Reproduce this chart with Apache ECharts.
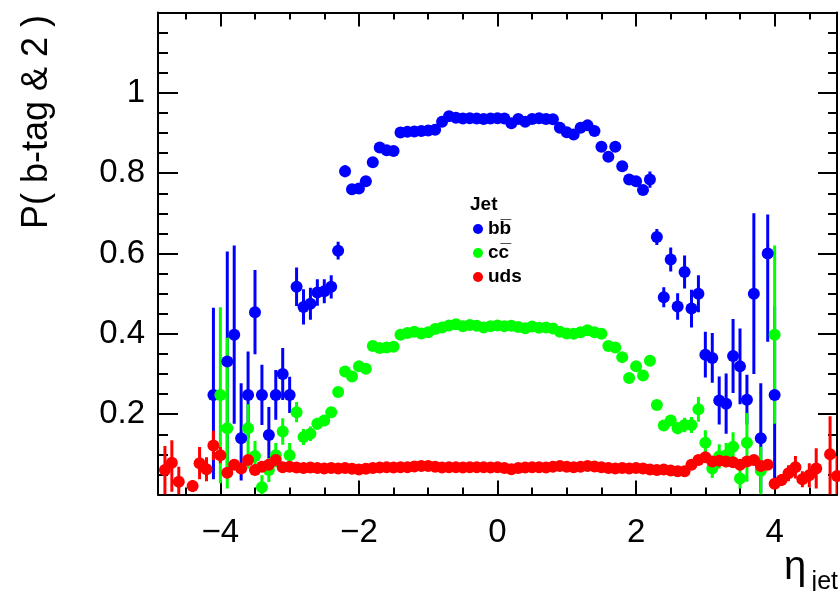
<!DOCTYPE html>
<html><head><meta charset="utf-8">
<script src="https://cdn.jsdelivr.net/npm/echarts@6/dist/echarts.min.js"></script>
<style>html,body{margin:0;padding:0;background:#fff}#c{width:840px;height:591px}</style>
</head><body><div id="c"></div>
<script>
// ---- tick labels ----
const xMajorTicks = [-4, -2, 0, 2, 4];
const xMinorTicks = [-4.5, -3.5, -3, -2.5, -1.5, -1, -0.5, 0.5, 1, 1.5, 2.5, 3, 3.5, 4.5];
const yTickLabels = [0.2, 0.4, 0.6, 0.8, 1];

// ---- b bbar ----
const bbEta = [-4.1,-3.9,-3.8,-3.7,-3.6,-3.5,-3.4,-3.3,-3.2,-3.1,-3.0,-2.9,-2.8,-2.7,-2.6,-2.5,-2.4,-2.3,-2.2,-2.1,-2.0,-1.9,-1.8,-1.7,-1.6,-1.5,
 -1.4,-1.3,-1.2,-1.1,-1.0,-0.9,-0.8,-0.7,-0.6,-0.5,-0.4,-0.3,-0.2,-0.1,0.0,0.1,0.2,0.3,0.4,0.5,0.6,0.7,0.8,0.9,1.0,1.1,1.2,1.3,1.4,
 1.5,1.6,1.7,1.8,1.9,2.0,2.1,2.2,2.3,2.4,2.5,2.6,2.7,2.8,2.9,3.0,3.1,3.2,3.3,3.4,3.5,3.6,3.7,3.8,3.9,4.0];
const bbVal = [0.248,0.331,0.398,0.14,0.248,0.454,0.248,0.148,0.248,0.30,0.248,0.517,0.467,0.475,0.503,0.506,0.517,0.607,0.805,0.76,0.762,0.78,0.827,0.864,0.857,0.855,
 0.901,0.903,0.904,0.905,0.906,0.908,0.928,0.942,0.938,0.936,0.937,0.936,0.935,0.936,0.937,0.936,0.924,0.935,0.928,0.935,0.937,0.935,0.934,0.913,0.902,0.896,0.913,0.919,0.905,
 0.866,0.841,0.866,0.817,0.784,0.78,0.758,0.784,0.641,0.491,0.585,0.468,0.554,0.463,0.50,0.348,0.34,0.234,0.226,0.345,0.319,0.236,0.50,0.14,0.60,0.248];
const bbErrHi = [0.217,0.274,0.222,0.137,0.108,0.105,0.075,0.07,0.062,0.065,0.045,0.048,0.044,0.04,0.033,0.03,0.029,0.022,0.015,0.012,0.011,0.01,0.009,0.008,0.008,0.007,
 0.005,0.005,0.005,0.005,0.005,0.005,0.005,0.005,0.005,0.005,0.005,0.005,0.005,0.005,0.005,0.005,0.005,0.005,0.005,0.005,0.005,0.005,0.005,0.005,0.005,0.005,0.005,0.005,0.005,
 0.007,0.008,0.008,0.009,0.01,0.011,0.012,0.02,0.02,0.025,0.03,0.033,0.041,0.047,0.046,0.057,0.062,0.06,0.075,0.092,0.094,0.062,0.2,0.137,0.097,0.22];
const bbErrLo = [0.21,0.29,0.222,0.105,0.108,0.105,0.075,0.07,0.062,0.065,0.045,0.048,0.044,0.04,0.033,0.03,0.029,0.022,0.015,0.012,0.011,0.01,0.009,0.008,0.008,0.007,
 0.005,0.005,0.005,0.005,0.005,0.005,0.005,0.005,0.005,0.005,0.005,0.005,0.005,0.005,0.005,0.005,0.005,0.005,0.005,0.005,0.005,0.005,0.005,0.005,0.005,0.005,0.005,0.005,0.005,
 0.007,0.008,0.008,0.009,0.01,0.011,0.012,0.02,0.02,0.025,0.03,0.033,0.041,0.047,0.046,0.057,0.062,0.06,0.075,0.092,0.094,0.062,0.2,0.135,0.22,0.21];

// ---- c cbar ----
const ccEta = [-4.0,-3.9,-3.6,-3.5,-3.4,-3.3,-3.2,-3.1,-3.0,-2.9,-2.8,-2.7,-2.6,-2.5,-2.4,-2.3,
 -2.2,-2.1,-2.0,-1.9,-1.8,-1.7,-1.6,-1.5,
 -1.4,-1.3,-1.2,-1.1,-1.0,-0.9,-0.8,-0.7,-0.6,-0.5,-0.4,-0.3,-0.2,-0.1,0.0,0.1,0.2,0.3,0.4,0.5,0.6,0.7,0.8,0.9,1.0,1.1,1.2,1.3,1.4,1.5,
 1.6,1.7,1.8,1.9,2.0,2.1,2.2,
 2.3,2.4,2.5,2.6,2.7,2.8,2.9,3.0,3.1,3.2,3.3,3.4,3.5,3.6,3.8,4.0];
const ccVal = [0.248,0.165,0.165,0.096,0.018,0.061,0.098,0.157,0.098,0.205,0.143,0.151,0.176,0.184,0.205,0.255,
 0.306,0.294,0.319,0.313,0.370,0.365,0.366,0.368,
 0.398,0.402,0.405,0.401,0.404,0.412,0.416,0.421,0.424,0.419,0.422,0.420,0.416,0.419,0.421,0.419,0.420,0.417,0.414,0.418,0.415,0.416,0.413,0.405,0.401,0.400,0.404,0.409,0.404,0.400,
 0.370,0.366,0.342,0.290,0.319,0.296,0.333,
 0.223,0.172,0.184,0.165,0.173,0.173,0.212,0.129,0.065,0.095,0.098,0.119,0.040,0.129,0.059,0.398];
const ccErrHi = [0.218,0.225,0.06,0.037,0.03,0.03,0.03,0.033,0.03,0.025,0.02,0.018,0.015,0.012,0.01,0.008,
 0.006,0.006,0.006,0.006,0.006,0.006,0.006,0.006,
 0.004,0.004,0.004,0.004,0.004,0.004,0.004,0.004,0.004,0.004,0.004,0.004,0.004,0.004,0.004,0.004,0.004,0.004,0.004,0.004,0.004,0.004,0.004,0.004,0.004,0.004,0.004,0.004,0.004,0.004,
 0.006,0.006,0.006,0.006,0.006,0.006,0.006,
 0.008,0.01,0.012,0.015,0.018,0.02,0.031,0.031,0.024,0.03,0.03,0.036,0.025,0.074,0.06,0.222];
const ccErrLo = [0.22,0.15,0.1,0.037,0.018,0.03,0.03,0.033,0.03,0.025,0.02,0.018,0.015,0.012,0.01,0.008,
 0.006,0.006,0.006,0.006,0.006,0.006,0.006,0.006,
 0.004,0.004,0.004,0.004,0.004,0.004,0.004,0.004,0.004,0.004,0.004,0.004,0.004,0.004,0.004,0.004,0.004,0.004,0.004,0.004,0.004,0.004,0.004,0.004,0.004,0.004,0.004,0.004,0.004,0.004,
 0.006,0.006,0.006,0.006,0.006,0.006,0.006,
 0.008,0.01,0.012,0.015,0.018,0.02,0.031,0.031,0.024,0.03,0.03,0.036,0.025,0.097,0.059,0.222];

// ---- uds ----
const udsEta = [-4.8,-4.7,-4.6,-4.4,-4.3,-4.2,-4.1,-4.0,-3.9,
 -3.8,-3.7,-3.6,-3.5,-3.4,-3.3,-3.2,-3.1,-3.0,
 -2.9,-2.8,-2.7,-2.6,-2.5,-2.4,-2.3,-2.2,-2.1,-2.0,
 -1.9,-1.8,-1.7,-1.6,-1.5,-1.4,-1.3,-1.2,-1.1,-1.0,
 -0.9,-0.8,-0.7,-0.6,-0.5,-0.4,-0.3,-0.2,-0.1,
 0.0,0.1,0.2,0.3,0.4,0.5,0.6,0.7,0.8,0.9,
 1.0,1.1,1.2,1.3,1.4,1.5,1.6,1.7,1.8,1.9,
 2.0,2.1,2.2,2.3,2.4,2.5,2.6,2.7,
 2.8,2.9,3.0,3.1,3.2,3.3,3.4,3.5,3.6,3.7,3.8,3.9,
 4.0,4.1,4.2,4.3,4.4,4.5,4.6,4.8,4.9];
const udsVal = [0.061,0.079,0.032,0.021,0.078,0.063,0.122,0.098,0.054,
 0.074,0.065,0.086,0.061,0.069,0.074,0.086,0.068,0.069,
 0.067,0.066,0.067,0.066,0.065,0.066,0.065,0.066,0.064,0.062,
 0.064,0.066,0.067,0.068,0.067,0.068,0.068,0.070,0.071,0.071,
 0.069,0.067,0.068,0.068,0.067,0.068,0.068,0.068,0.067,
 0.068,0.066,0.063,0.066,0.067,0.068,0.068,0.067,0.069,0.071,
 0.069,0.068,0.069,0.071,0.070,0.068,0.066,0.065,0.066,0.065,
 0.066,0.065,0.062,0.061,0.062,0.060,0.058,0.058,
 0.074,0.086,0.093,0.082,0.084,0.082,0.080,0.074,0.082,0.086,0.071,0.074,
 0.027,0.036,0.053,0.068,0.038,0.048,0.065,0.100,0.046];
const udsErrHi = [0.06,0.056,0.037,0.015,0.04,0.03,0.037,0.02,0.012,
 0.008,0.008,0.008,0.008,0.008,0.008,0.008,0.008,0.008,
 0.003,0.003,0.003,0.003,0.003,0.003,0.003,0.003,0.003,0.003,
 0.003,0.003,0.003,0.003,0.003,0.003,0.003,0.003,0.003,0.003,
 0.003,0.003,0.003,0.003,0.003,0.003,0.003,0.003,0.003,
 0.003,0.003,0.003,0.003,0.003,0.003,0.003,0.003,0.003,0.003,
 0.003,0.003,0.003,0.003,0.003,0.003,0.003,0.003,0.003,0.003,
 0.003,0.003,0.003,0.003,0.003,0.003,0.003,0.003,
 0.006,0.006,0.006,0.006,0.006,0.006,0.006,0.006,0.006,0.006,0.006,0.006,
 0.012,0.015,0.02,0.028,0.02,0.03,0.05,0.095,0.05];
const udsErrLo = [0.061,0.072,0.032,0.015,0.04,0.03,0.037,0.02,0.012,
 0.008,0.008,0.008,0.008,0.008,0.008,0.008,0.008,0.008,
 0.003,0.003,0.003,0.003,0.003,0.003,0.003,0.003,0.003,0.003,
 0.003,0.003,0.003,0.003,0.003,0.003,0.003,0.003,0.003,0.003,
 0.003,0.003,0.003,0.003,0.003,0.003,0.003,0.003,0.003,
 0.003,0.003,0.003,0.003,0.003,0.003,0.003,0.003,0.003,0.003,
 0.003,0.003,0.003,0.003,0.003,0.003,0.003,0.003,0.003,0.003,
 0.003,0.003,0.003,0.003,0.003,0.003,0.003,0.003,
 0.006,0.006,0.006,0.006,0.006,0.006,0.006,0.006,0.006,0.006,0.006,0.006,
 0.012,0.015,0.02,0.028,0.02,0.03,0.05,0.1,0.046];

const FONT = '"Liberation Sans", Arial, Helvetica, sans-serif';
const chart = echarts.init(document.getElementById('c'), null, {renderer: 'canvas'});

function errSeries(color, eta, val, lo, hi) {
  return {
    type: 'custom', xAxisIndex: 0, yAxisIndex: 0, clip: true, silent: true,
    data: eta.map((x, i) => [x, val[i], lo[i], hi[i]]),
    encode: {x: 0, y: 1},
    renderItem: function (params, api) {
      const x = api.value(0), y = api.value(1), l = api.value(2), h = api.value(3);
      const p1 = api.coord([x, y - l]);
      const p2 = api.coord([x, y + h]);
      return {type: 'line', shape: {x1: p1[0], y1: p1[1], x2: p2[0], y2: p2[1]},
              style: {stroke: color, lineWidth: 3}};
    }
  };
}
function ptSeries(name, color, eta, val) {
  return {
    name: name, type: 'scatter', xAxisIndex: 0, yAxisIndex: 0, clip: true,
    symbol: 'circle', symbolSize: 12,
    itemStyle: {color: color, opacity: 1},
    emphasis: {disabled: true},
    data: eta.map((x, i) => [x, val[i]])
  };
}

const axisLineStyle = {color: '#000', width: 2};
const tickStyle = {color: '#000', width: 2};

const option = {
  animation: false,
  backgroundColor: '#fff',
  grid: [
    {left: 158, right: 3, top: 12.5, bottom: 96.5, containLabel: false},
    {left: 158, right: 3, top: 12.5, bottom: 96.5, containLabel: false}
  ],
  xAxis: [
    {type: 'value', gridIndex: 0, position: 'bottom', min: -4.9, max: 4.9,
     axisLine: {show: true, onZero: false, lineStyle: axisLineStyle},
     axisTick: {show: true, inside: true, length: 14, customValues: xMajorTicks, lineStyle: tickStyle},
     axisLabel: {show: true, customValues: xMajorTicks, margin: 22, color: '#000', fontSize: 33, fontFamily: FONT,
                 formatter: v => (v < 0 ? '\u2212' + Math.abs(v) : String(v))},
     splitLine: {show: false}},
    {type: 'value', gridIndex: 0, position: 'top', min: -4.9, max: 4.9,
     axisLine: {show: true, onZero: false, lineStyle: axisLineStyle},
     axisTick: {show: true, inside: true, length: 14, customValues: xMajorTicks, lineStyle: tickStyle},
     axisLabel: {show: false}, splitLine: {show: false}},
    {type: 'value', gridIndex: 1, position: 'bottom', min: -4.9, max: 4.9,
     axisLine: {show: false, onZero: false},
     axisTick: {show: true, inside: true, length: 7, customValues: xMinorTicks, lineStyle: tickStyle},
     axisLabel: {show: false}, splitLine: {show: false}},
    {type: 'value', gridIndex: 1, position: 'top', min: -4.9, max: 4.9,
     axisLine: {show: false, onZero: false},
     axisTick: {show: true, inside: true, length: 7, customValues: xMinorTicks, lineStyle: tickStyle},
     axisLabel: {show: false}, splitLine: {show: false}}
  ],
  yAxis: [
    {type: 'value', gridIndex: 0, position: 'left', min: 0, max: 1.2, interval: 0.2,
     axisLine: {show: true, onZero: false, lineStyle: axisLineStyle},
     axisTick: {show: true, inside: true, length: 20, lineStyle: tickStyle},
     minorTick: {show: true, splitNumber: 4, length: 10, lineStyle: tickStyle},
     axisLabel: {show: true, margin: 13, color: '#000', fontSize: 33, fontFamily: FONT,
                 formatter: v => (yTickLabels.some(t => Math.abs(t - v) < 1e-6) ? String(+v.toFixed(1)) : '')},
     splitLine: {show: false}, minorSplitLine: {show: false}},
    {type: 'value', gridIndex: 0, position: 'right', min: 0, max: 1.2, interval: 0.2,
     axisLine: {show: true, onZero: false, lineStyle: axisLineStyle},
     axisTick: {show: true, inside: true, length: 19, lineStyle: tickStyle},
     minorTick: {show: true, splitNumber: 4, length: 9, lineStyle: tickStyle},
     axisLabel: {show: false}, splitLine: {show: false}, minorSplitLine: {show: false}},
    {type: 'value', gridIndex: 1, min: 0, max: 1.2, show: false}
  ],
  legend: {
    show: true, orient: 'vertical', left: 473, top: 219, padding: 0,
    itemWidth: 10, itemHeight: 10, itemGap: 4,
    textStyle: {fontFamily: FONT, fontWeight: 'bold', fontSize: 19, color: '#000', lineHeight: 20},
    data: [{name: 'bb\u0305', icon: 'circle'}, {name: 'cc\u0305', icon: 'circle'}, {name: 'uds', icon: 'circle'}],
    selectedMode: false
  },
  graphic: [
    {type: 'text', x: 37, y: 15, rotation: Math.PI / 2,
     style: {text: 'P( b-tag & 2 )', font: '36px ' + FONT, fill: '#000', align: 'right', verticalAlign: 'middle'}},
    {type: 'text', x: 784, y: 568,
     style: {text: '\u03b7', font: '40px ' + FONT, fill: '#000', align: 'left', verticalAlign: 'middle'}},
    {type: 'text', x: 838, y: 582,
     style: {text: 'jet', font: '25px ' + FONT, fill: '#000', align: 'right', verticalAlign: 'middle'}},
    {type: 'text', x: 470, y: 205,
     style: {text: 'Jet', font: 'bold 19px ' + FONT, fill: '#000', align: 'left', verticalAlign: 'middle'}}
  ],
  series: [
    errSeries('#0000ff', bbEta, bbVal, bbErrLo, bbErrHi),
    ptSeries('bb\u0305', '#0000ff', bbEta, bbVal),
    errSeries('#00ff00', ccEta, ccVal, ccErrLo, ccErrHi),
    ptSeries('cc\u0305', '#00ff00', ccEta, ccVal),
    errSeries('#ff0000', udsEta, udsVal, udsErrLo, udsErrHi),
    ptSeries('uds', '#ff0000', udsEta, udsVal)
  ]
};
chart.setOption(option);
</script>
</body></html>
